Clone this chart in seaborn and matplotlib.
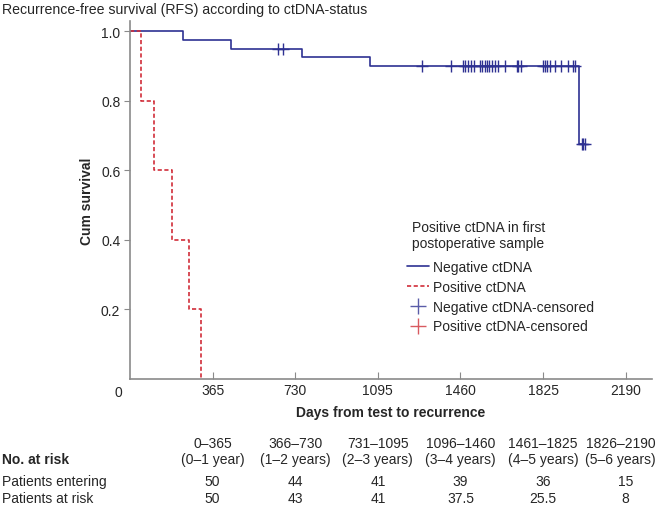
import numpy as np
import pandas as pd
import matplotlib
matplotlib.use("Agg")
import matplotlib.pyplot as plt
import matplotlib.transforms as mtransforms
from matplotlib.lines import Line2D
import seaborn as sns

# Kaplan-Meier steps (days, cum survival)
neg_times = [0, 236, 448, 758, 1060, 1982, 2012]
neg_surv = [1.0, 0.975, 0.95, 0.925, 0.9, 0.675, 0.675]
pos_times = [0, 49, 107, 187, 262, 312]
pos_surv = [1.0, 0.8, 0.6, 0.4, 0.2, 0.0]

# censored patients (negative ctDNA group)
neg_censored = [654, 674, 1290, 1419, 1469, 1481, 1492, 1505, 1518, 1546, 1557,
                1568, 1579, 1588, 1599, 1612, 1624, 1656, 1708, 1716, 1726, 1825,
                1835, 1844, 1854, 1876, 1903, 1935, 1957, 1967, 1995, 2003, 2012]

xticks = [365, 730, 1095, 1460, 1825, 2190]
yticks = [0.2, 0.4, 0.6, 0.8, 1.0]

# number at risk table
intervals = ["0\u2013365", "366\u2013730", "731\u20131095", "1096\u20131460", "1461\u20131825", "1826\u20132190"]
years = ["(0\u20131 year)", "(1\u20132 years)", "(2\u20133 years)", "(3\u20134 years)", "(4\u20135 years)", "(5\u20136 years)"]
entering = ["50", "44", "41", "39", "36", "15"]
at_risk = ["50", "43", "41", "37.5", "25.5", "8"]

navy = "#2E3192"
red = "#D12E3A"
grey = "#8A8A8A"
fs = 10

sns.set_style("ticks")
plt.rcParams["font.family"] = ["Liberation Sans", "DejaVu Sans"]

neg_df = pd.DataFrame({"days": neg_times, "surv": neg_surv})
pos_df = pd.DataFrame({"days": pos_times, "surv": pos_surv})

# survival at each censored time, from the step function
idx = np.searchsorted(neg_times, neg_censored, side="right") - 1
cens_df = pd.DataFrame({"days": neg_censored, "surv": np.array(neg_surv)[idx]})

fig = plt.figure(figsize=(6.59, 5.10), dpi=100)
ax = fig.add_axes([130 / 659, 1 - 380 / 510, (652 - 130) / 659, (380 - 22) / 510])

sns.lineplot(data=neg_df, x="days", y="surv", ax=ax, color=navy, lw=1.2,
             drawstyle="steps-post", estimator=None, sort=False)
sns.lineplot(data=pos_df, x="days", y="surv", ax=ax, color=red, lw=1.2,
             drawstyle="steps-post", estimator=None, sort=False)
ax.lines[-1].set_dashes((2.5, 1.5))
ax.plot(cens_df["days"], cens_df["surv"], ls="none", marker="+", ms=8,
        mew=1.0, color=navy)

ax.set_xlim(0, 2306)
ax.set_ylim(0, 1.03)
ax.set_xticks(xticks)
ax.set_yticks(yticks)
ax.set_yticklabels([f"{v:.1f}" for v in yticks])
ax.tick_params(axis="x", direction="in", length=5, color=grey, labelsize=fs, pad=3)
ax.tick_params(axis="y", direction="out", length=4, color=grey, labelsize=fs, pad=3)
for s in ["top", "right"]:
    ax.spines[s].set_visible(False)
for s in ["left", "bottom"]:
    ax.spines[s].set_color(grey)
    ax.spines[s].set_linewidth(1.2)

ax.set_xlabel("Days from test to recurrence", fontweight="bold", fontsize=fs, labelpad=6)
ax.set_ylabel("Cum survival", fontweight="bold", fontsize=fs, labelpad=5)
ax.text(-0.015, -0.018, "0", transform=ax.transAxes, ha="right", va="top", fontsize=fs)

fig.text(2 / 659, 1 - 10 / 510, "Recurrence-free survival (RFS) according to ctDNA-status",
         ha="left", va="center", fontsize=10.2)

# legend: title as separate text, entries below
fig.text(412 / 659, 1 - 236 / 510, "Positive ctDNA in first\npostoperative sample",
         ha="left", va="center", fontsize=fs, linespacing=1.25)
handles = [
    Line2D([], [], color=navy, lw=1.2),
    Line2D([], [], color=red, lw=1.2, dashes=(2.5, 1.5)),
    Line2D([], [], color="#5A5CA8", ls="none", marker="+", ms=11, mew=1.0),
    Line2D([], [], color="#D85A60", ls="none", marker="+", ms=11, mew=1.0),
]
labels = ["Negative ctDNA", "Positive ctDNA", "Negative ctDNA-censored", "Positive ctDNA-censored"]
fig.legend(handles, labels, loc="upper left", bbox_to_anchor=(407 / 659, 1 - 261 / 510),
           frameon=False, fontsize=fs, borderpad=0, borderaxespad=0,
           handlelength=1.6, handletextpad=0.3, labelspacing=0.42)

# number at risk table
trans = mtransforms.blended_transform_factory(ax.transData, fig.transFigure)
# last column nudged left so it stays inside the figure
shift = mtransforms.ScaledTranslation(-5 / 100, 0, fig.dpi_scale_trans)
y1, y2, y3, y4 = 1 - 444 / 510, 1 - 460 / 510, 1 - 482 / 510, 1 - 499 / 510
fig.text(2 / 659, y2, "No. at risk", fontweight="bold", fontsize=fs, va="center")
fig.text(2 / 659, y3, "Patients entering", fontsize=fs, va="center")
fig.text(2 / 659, y4, "Patients at risk", fontsize=fs, va="center")
for i, (xt, a, b, c, d) in enumerate(zip(xticks, intervals, years, entering, at_risk)):
    ht = trans + shift if i == len(xticks) - 1 else trans
    fig.text(xt, y1, a, transform=ht, ha="center", va="center", fontsize=fs)
    fig.text(xt, y2, b, transform=ht, ha="center", va="center", fontsize=fs)
    fig.text(xt, y3, c, transform=trans, ha="center", va="center", fontsize=fs)
    fig.text(xt, y4, d, transform=trans, ha="center", va="center", fontsize=fs)

fig.savefig("out.png", dpi=100)
